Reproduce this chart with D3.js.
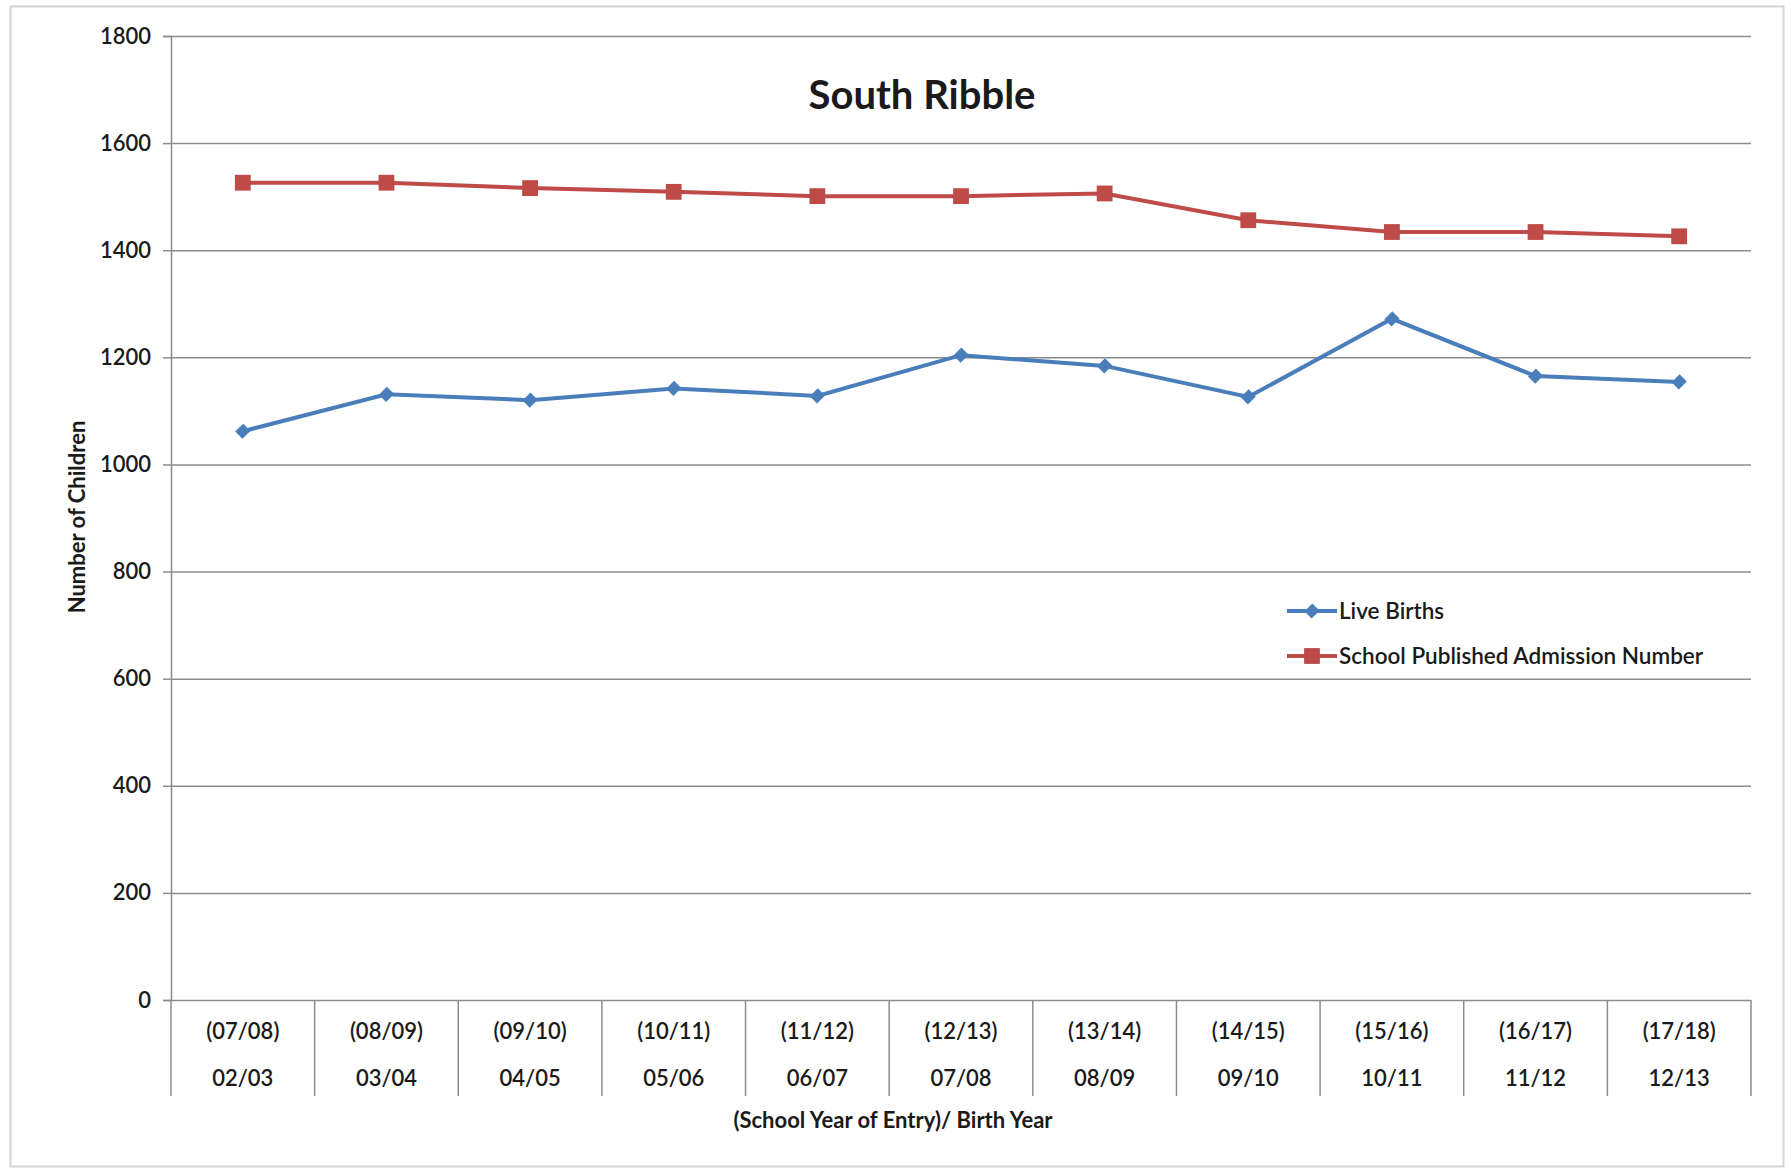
<!DOCTYPE html>
<html><head><meta charset="utf-8">
<script src="https://cdn.jsdelivr.net/npm/d3@7"></script>
<style>
body{margin:0;background:#fff;}
svg text{font-family:Lato,"Open Sans",sans-serif;fill:#1a1a1a;}
</style></head>
<body>
<svg id="chart" width="1791" height="1173"></svg>
<script>
const entryYears = ["(07/08)","(08/09)","(09/10)","(10/11)","(11/12)","(12/13)","(13/14)","(14/15)","(15/16)","(16/17)","(17/18)"];
const birthYears = ["02/03","03/04","04/05","05/06","06/07","07/08","08/09","09/10","10/11","11/12","12/13"];
const liveBirths = [1062,1131,1120,1142,1128,1204,1184,1126,1272,1165,1154];
const admissionNumbers = [1526,1526,1516,1509,1501,1501,1506,1456,1434,1434,1426];
const yTicks = [0,200,400,600,800,1000,1200,1400,1600,1800];
const seriesNames = ["Live Births","School Published Admission Number"];

const svg = d3.select("#chart");
const L = 171, R = 1751, T = 36, B = 1000;
const blue = "#4A7EBB", red = "#BE4B48", grid = "#8c8c8c";

svg.append("rect").attr("x",10.5).attr("y",6.5).attr("width",1773).attr("height",1160)
  .attr("fill","#fff").attr("stroke","#d4d4d4").attr("stroke-width",2);

const x = d3.scaleBand().domain(d3.range(entryYears.length)).range([L,R]);
const y = d3.scaleLinear().domain([0,1800]).range([B,T]);

const yAxis = d3.axisLeft(y).tickValues(yTicks).tickFormat(d3.format("d")).tickSize(8).tickPadding(12);
const gy = svg.append("g").attr("transform",`translate(${L},0)`).call(yAxis);
gy.select(".domain").attr("stroke",grid).attr("stroke-width",1.5);
gy.selectAll(".tick line").attr("stroke",grid).attr("stroke-width",1.5);
gy.selectAll(".tick").append("line").attr("x1",0).attr("x2",R-L)
  .attr("stroke",grid).attr("stroke-width",1.5);
gy.selectAll(".tick text").attr("font-size",22).attr("font-weight",600)
  .style("font-family","Lato").attr("fill","#1a1a1a");

const xAxisG = svg.append("g");
const bounds = d3.range(entryYears.length+1).map(i => i<entryYears.length ? x(i) : x(i-1)+x.bandwidth());
xAxisG.selectAll("line.sep").data(bounds).join("line")
  .attr("x1",d=>d).attr("x2",d=>d).attr("y1",B).attr("y2",1096)
  .attr("stroke",grid).attr("stroke-width",1.5);
xAxisG.selectAll("text.e").data(entryYears).join("text")
  .attr("x",(d,i)=>x(i)+x.bandwidth()/2).attr("y",1039)
  .attr("text-anchor","middle").attr("font-size",22).attr("font-weight",600).text(d=>d);
xAxisG.selectAll("text.b").data(birthYears).join("text")
  .attr("x",(d,i)=>x(i)+x.bandwidth()/2).attr("y",1086)
  .attr("text-anchor","middle").attr("font-size",22).attr("font-weight",600).text(d=>d);

svg.append("text").attr("x",922).attr("y",109).attr("text-anchor","middle")
  .attr("font-size",40).attr("font-weight",700).text("South Ribble");
svg.append("text").attr("x",893).attr("y",1128).attr("text-anchor","middle")
  .attr("font-size",22).attr("font-weight",700).text("(School Year of Entry)/ Birth Year");
svg.append("text").attr("transform","translate(85,517) rotate(-90)").attr("text-anchor","middle")
  .attr("font-size",22).attr("font-weight",700).text("Number of Children");

const cx = i => x(i)+x.bandwidth()/2;
const line = d3.line().x((d,i)=>cx(i)).y(d=>y(d));
svg.append("path").datum(admissionNumbers).attr("d",line).attr("fill","none")
  .attr("stroke",red).attr("stroke-width",4);
svg.append("path").datum(liveBirths).attr("d",line).attr("fill","none")
  .attr("stroke",blue).attr("stroke-width",4);

const sq = d3.symbol().type(d3.symbolSquare).size(250);
const dia = d3.symbol().type(d3.symbolSquare).size(105);
svg.selectAll("path.rm").data(admissionNumbers).join("path")
  .attr("d",sq).attr("transform",(d,i)=>`translate(${cx(i)},${y(d)})`).attr("fill",red);
svg.selectAll("path.bm").data(liveBirths).join("path")
  .attr("d",dia).attr("transform",(d,i)=>`translate(${cx(i)},${y(d)}) rotate(45) scale(1,1.1)`).attr("fill",blue);

const lg = svg.append("g");
const legY = [611,656], legCol = [blue,red], legSym = [dia,sq], legRot = [" rotate(45) scale(1,1.1)",""];
seriesNames.forEach((n,k)=>{
  lg.append("line").attr("x1",1287).attr("x2",1337).attr("y1",legY[k]).attr("y2",legY[k])
    .attr("stroke",legCol[k]).attr("stroke-width",4);
  lg.append("path").attr("d",legSym[k]).attr("transform",`translate(1312,${legY[k]})${legRot[k]}`).attr("fill",legCol[k]);
  lg.append("text").attr("x",1339).attr("y",legY[k]+8).attr("font-size",22.5).attr("font-weight",600).text(n);
});
</script>
</body></html>
